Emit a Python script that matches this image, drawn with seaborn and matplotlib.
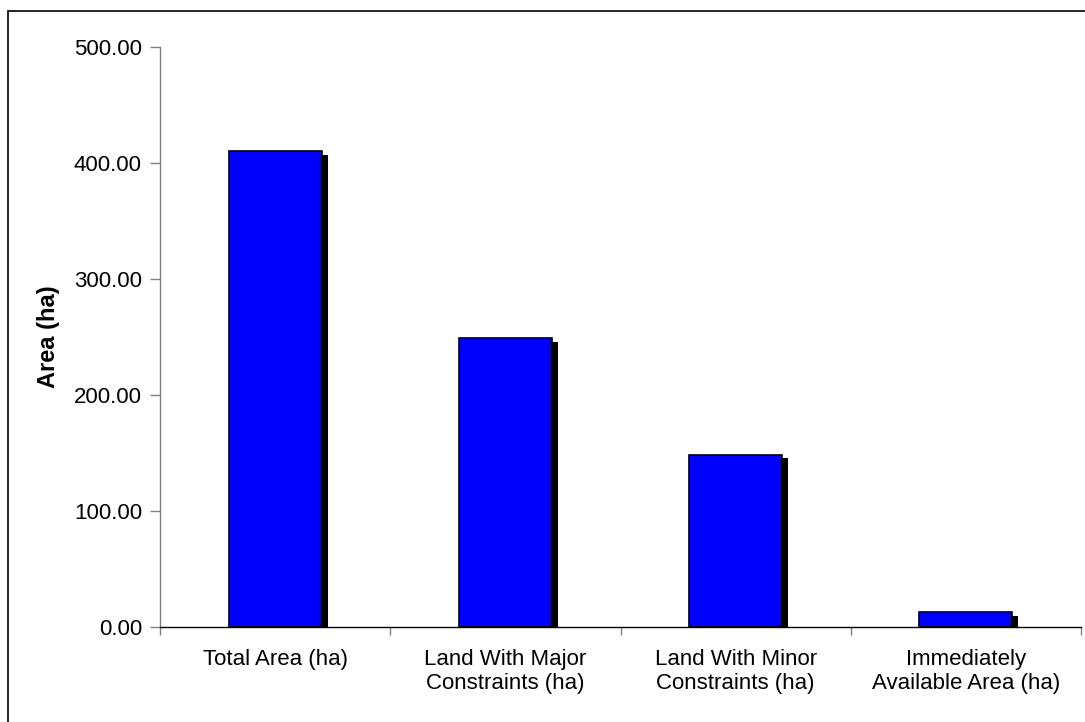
import matplotlib
matplotlib.use('Agg')
import matplotlib.pyplot as plt
import matplotlib.patheffects as pe
from matplotlib.patches import Rectangle
from matplotlib.ticker import FormatStrFormatter, FixedLocator
import seaborn as sns
import pandas as pd

categories = ['Total Area (ha)', 'Land With Major\nConstraints (ha)',
              'Land With Minor\nConstraints (ha)', 'Immediately\nAvailable Area (ha)']
areas = [410.0, 249.0, 148.6, 13.0]

df = pd.DataFrame({'category': categories, 'area': areas})

sns.set_style('white')
plt.rcParams['font.family'] = ['Liberation Sans', 'DejaVu Sans']
plt.rcParams['text.color'] = 'black'
plt.rcParams['xtick.labelcolor'] = 'black'
plt.rcParams['ytick.labelcolor'] = 'black'
plt.rcParams['axes.labelcolor'] = 'black'

fig = plt.figure(figsize=(10.85, 7.22), dpi=100)
ax = fig.add_axes([0.1475, 0.1316, 0.9963 - 0.1475, 0.9349 - 0.1316])

sns.barplot(data=df, x='category', y='area', color='#0000FF', saturation=1,
            edgecolor='black', linewidth=1.2, width=0.405, ax=ax)

# drop shadow like the original
for p in ax.patches:
    p.set_path_effects([pe.SimplePatchShadow(offset=(4.3, -2.6), shadow_rgbFace='black', alpha=1.0),
                        pe.Normal()])

ax.set_xlim(-0.5, 3.5)
ax.set_ylim(0, 500)
ax.set_yticks([0, 100, 200, 300, 400, 500])
ax.yaxis.set_major_formatter(FormatStrFormatter('%.2f'))

# ticks at category boundaries, labels at centres
ax.xaxis.set_major_locator(FixedLocator([-0.5, 0.5, 1.5, 2.5, 3.5]))
ax.set_xticklabels([])
ax.set_xticks([0, 1, 2, 3], minor=True)
ax.set_xticklabels(categories, minor=True)
ax.tick_params(axis='x', which='minor', length=0, pad=16, labelsize=16, labelcolor='black')
ax.tick_params(axis='x', which='major', length=6, width=1, color='#808080', direction='out', bottom=True)
ax.tick_params(axis='y', length=7, width=1, color='#808080', direction='out', left=True,
               labelsize=16, pad=6, labelcolor='black')

ax.set_xlabel('')
ax.set_ylabel('Area (ha)', fontsize=17, fontweight='bold', labelpad=10, color='black')

for s in ['top', 'right']:
    ax.spines[s].set_visible(False)
ax.spines['left'].set_color('#808080')
ax.spines['bottom'].set_color('black')
ax.spines['left'].set_linewidth(1)
ax.spines['bottom'].set_linewidth(1)

# outer chart frame
fig.patches.append(Rectangle((8 / 1085, -0.05), 1.1, 1 - 11 / 722 + 0.05, transform=fig.transFigure,
                             fill=False, edgecolor='black', linewidth=1.2))

plt.savefig('out.png', dpi=100)
